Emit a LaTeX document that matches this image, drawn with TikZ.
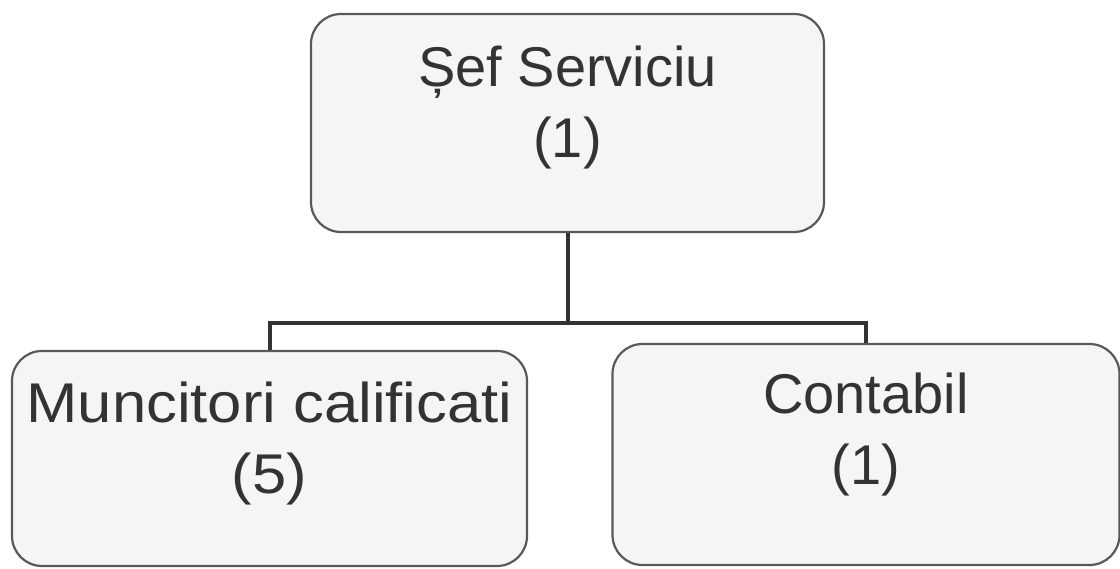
\documentclass[tikz,border=0pt]{standalone}
\usepackage{fontspec}
\setmainfont{Liberation Sans}
\newfontfamily\widesans[FakeStretch=1.1]{Liberation Sans}
\usetikzlibrary{positioning}

\begin{document}
\begin{tikzpicture}[x=1pt,y=-1pt]
	\tikzstyle{block} = [draw=black!65, line width=2.2pt, fill=black!4, rounded corners=30pt, rectangle]
	\tikzstyle{txt} = [align=center, inner sep=0pt, font=\fontsize{56}{71}\selectfont, text=black!80]
	\tikzstyle{link} = [draw=black!80, line width=4pt]

	\useasboundingbox (0,0) rectangle (1120,569);

	\node [block, minimum width=513pt, minimum height=218pt] (sef) at (567.5,123) {};
	\node [txt, below = 33pt of sef.north] (seftext) {Șef Serviciu\\(1)};

	\node [block, minimum width=515pt, minimum height=215pt] (muncitori) at (269.5,458.5) {};
	\node [txt, font=\widesans\fontsize{56}{71}\selectfont, below = 32pt of muncitori.north] (muncitoritext) {Muncitori calificati\\(5)};

	\node [block, minimum width=507pt, minimum height=221pt] (contabil) at (866,454.5) {};
	\node [txt, below = 30pt of contabil.north] (contabiltext) {Contabil\\(1)};

	\coordinate [below = 90pt of sef.south] (split);

	\draw [link] (sef.south) -- (split);
	\draw [link] (muncitori.north) |- (split) -| (contabil.north);
\end{tikzpicture}
\end{document}
